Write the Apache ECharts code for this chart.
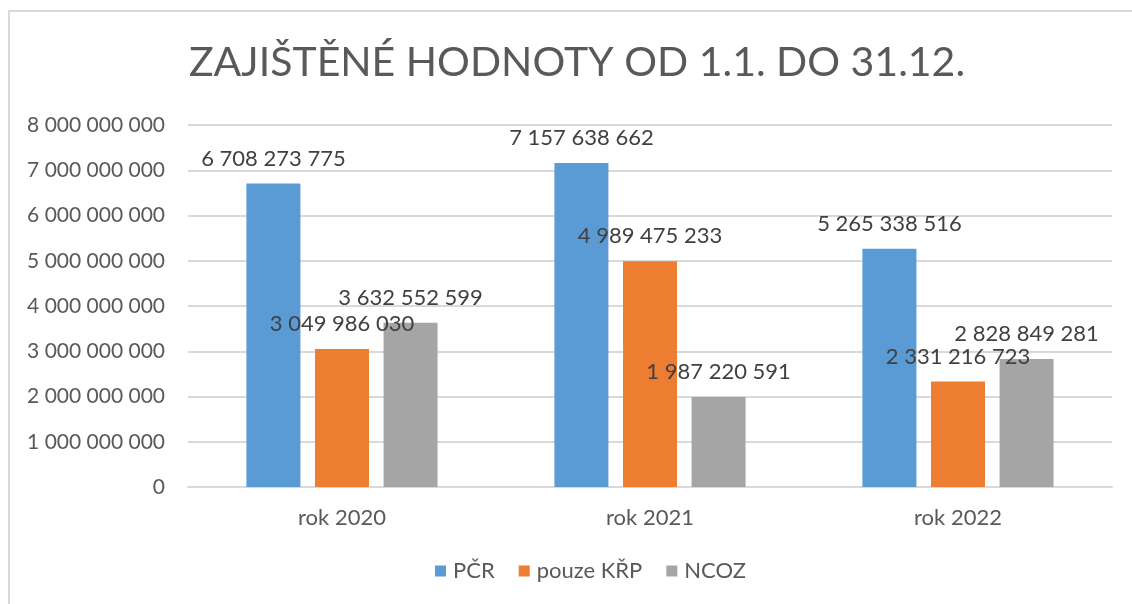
<!DOCTYPE html>
<html>
<head>
<meta charset="utf-8">
<script src="https://cdn.jsdelivr.net/npm/echarts@6/dist/echarts.min.js"></script>
<style>
  html, body { margin: 0; padding: 0; background: #fff; }
  #chart { width: 1132px; height: 604px; }
</style>
</head>
<body>
<div id="chart"></div>
<script>
// data
const categories = ["rok 2020", "rok 2021", "rok 2022"];
const pcr = [6708273775, 7157638662, 5265338516];
const krp = [3049986030, 4989475233, 2331216723];
const ncoz = [3632552599, 1987220591, 2828849281];
const yTicks = { min: 0, max: 8000000000, interval: 1000000000 };

// cisla s mezerami po tisicich
function fmt(v) {
  return String(Math.round(v)).replace(/\B(?=(\d{3})+(?!\d))/g, " ");
}

const font = "Lato";
const chart = echarts.init(document.getElementById("chart"));

function barSeries(name, data, color) {
  return {
    name: name,
    type: "bar",
    data: data,
    barWidth: 54,
    barGap: "27%",
    itemStyle: { color: color },
    label: {
      show: true,
      position: "top",
      distance: 14,
      color: "#404040",
      fontFamily: font,
      fontSize: 22,
      formatter: p => fmt(p.value)
    }
  };
}

chart.setOption({
  animation: false,
  textStyle: { fontFamily: font },
  graphic: [{
    type: "rect",
    shape: { x: 9, y: 11, width: 1140, height: 620 },
    style: { fill: "none", stroke: "#d9d9d9", lineWidth: 2 }
  }],
  title: {
    text: "ZAJIŠTĚNÉ HODNOTY OD 1.1. DO 31.12.",
    left: 572,
    textAlign: "center",
    top: 37,
    textStyle: { fontFamily: font, fontSize: 41, fontWeight: "normal", color: "#595959" }
  },
  legend: {
    bottom: 17,
    left: 430,
    itemWidth: 11,
    itemHeight: 11,
    itemGap: 24,
    icon: "rect",
    textStyle: { fontFamily: font, fontSize: 22, color: "#595959", padding: [0, 0, 0, 2] }
  },
  grid: { left: 188, right: 20, top: 125, bottom: 117 },
  xAxis: {
    type: "category",
    data: categories,
    axisTick: { show: false },
    axisLine: { lineStyle: { color: "#d9d9d9", width: 2 } },
    axisLabel: { margin: 20, fontFamily: font, fontSize: 22, color: "#595959" }
  },
  yAxis: {
    type: "value",
    min: yTicks.min,
    max: yTicks.max,
    interval: yTicks.interval,
    axisLine: { show: false },
    axisTick: { show: false },
    splitLine: { lineStyle: { color: "#d9d9d9", width: 2 } },
    axisLabel: { margin: 23, fontFamily: font, fontSize: 21, color: "#595959", formatter: v => fmt(v) }
  },
  series: [
    barSeries("PČR", pcr, "#5b9bd5"),
    barSeries("pouze KŘP", krp, "#ed7d31"),
    barSeries("NCOZ", ncoz, "#a5a5a5")
  ]
});
</script>
</body>
</html>
